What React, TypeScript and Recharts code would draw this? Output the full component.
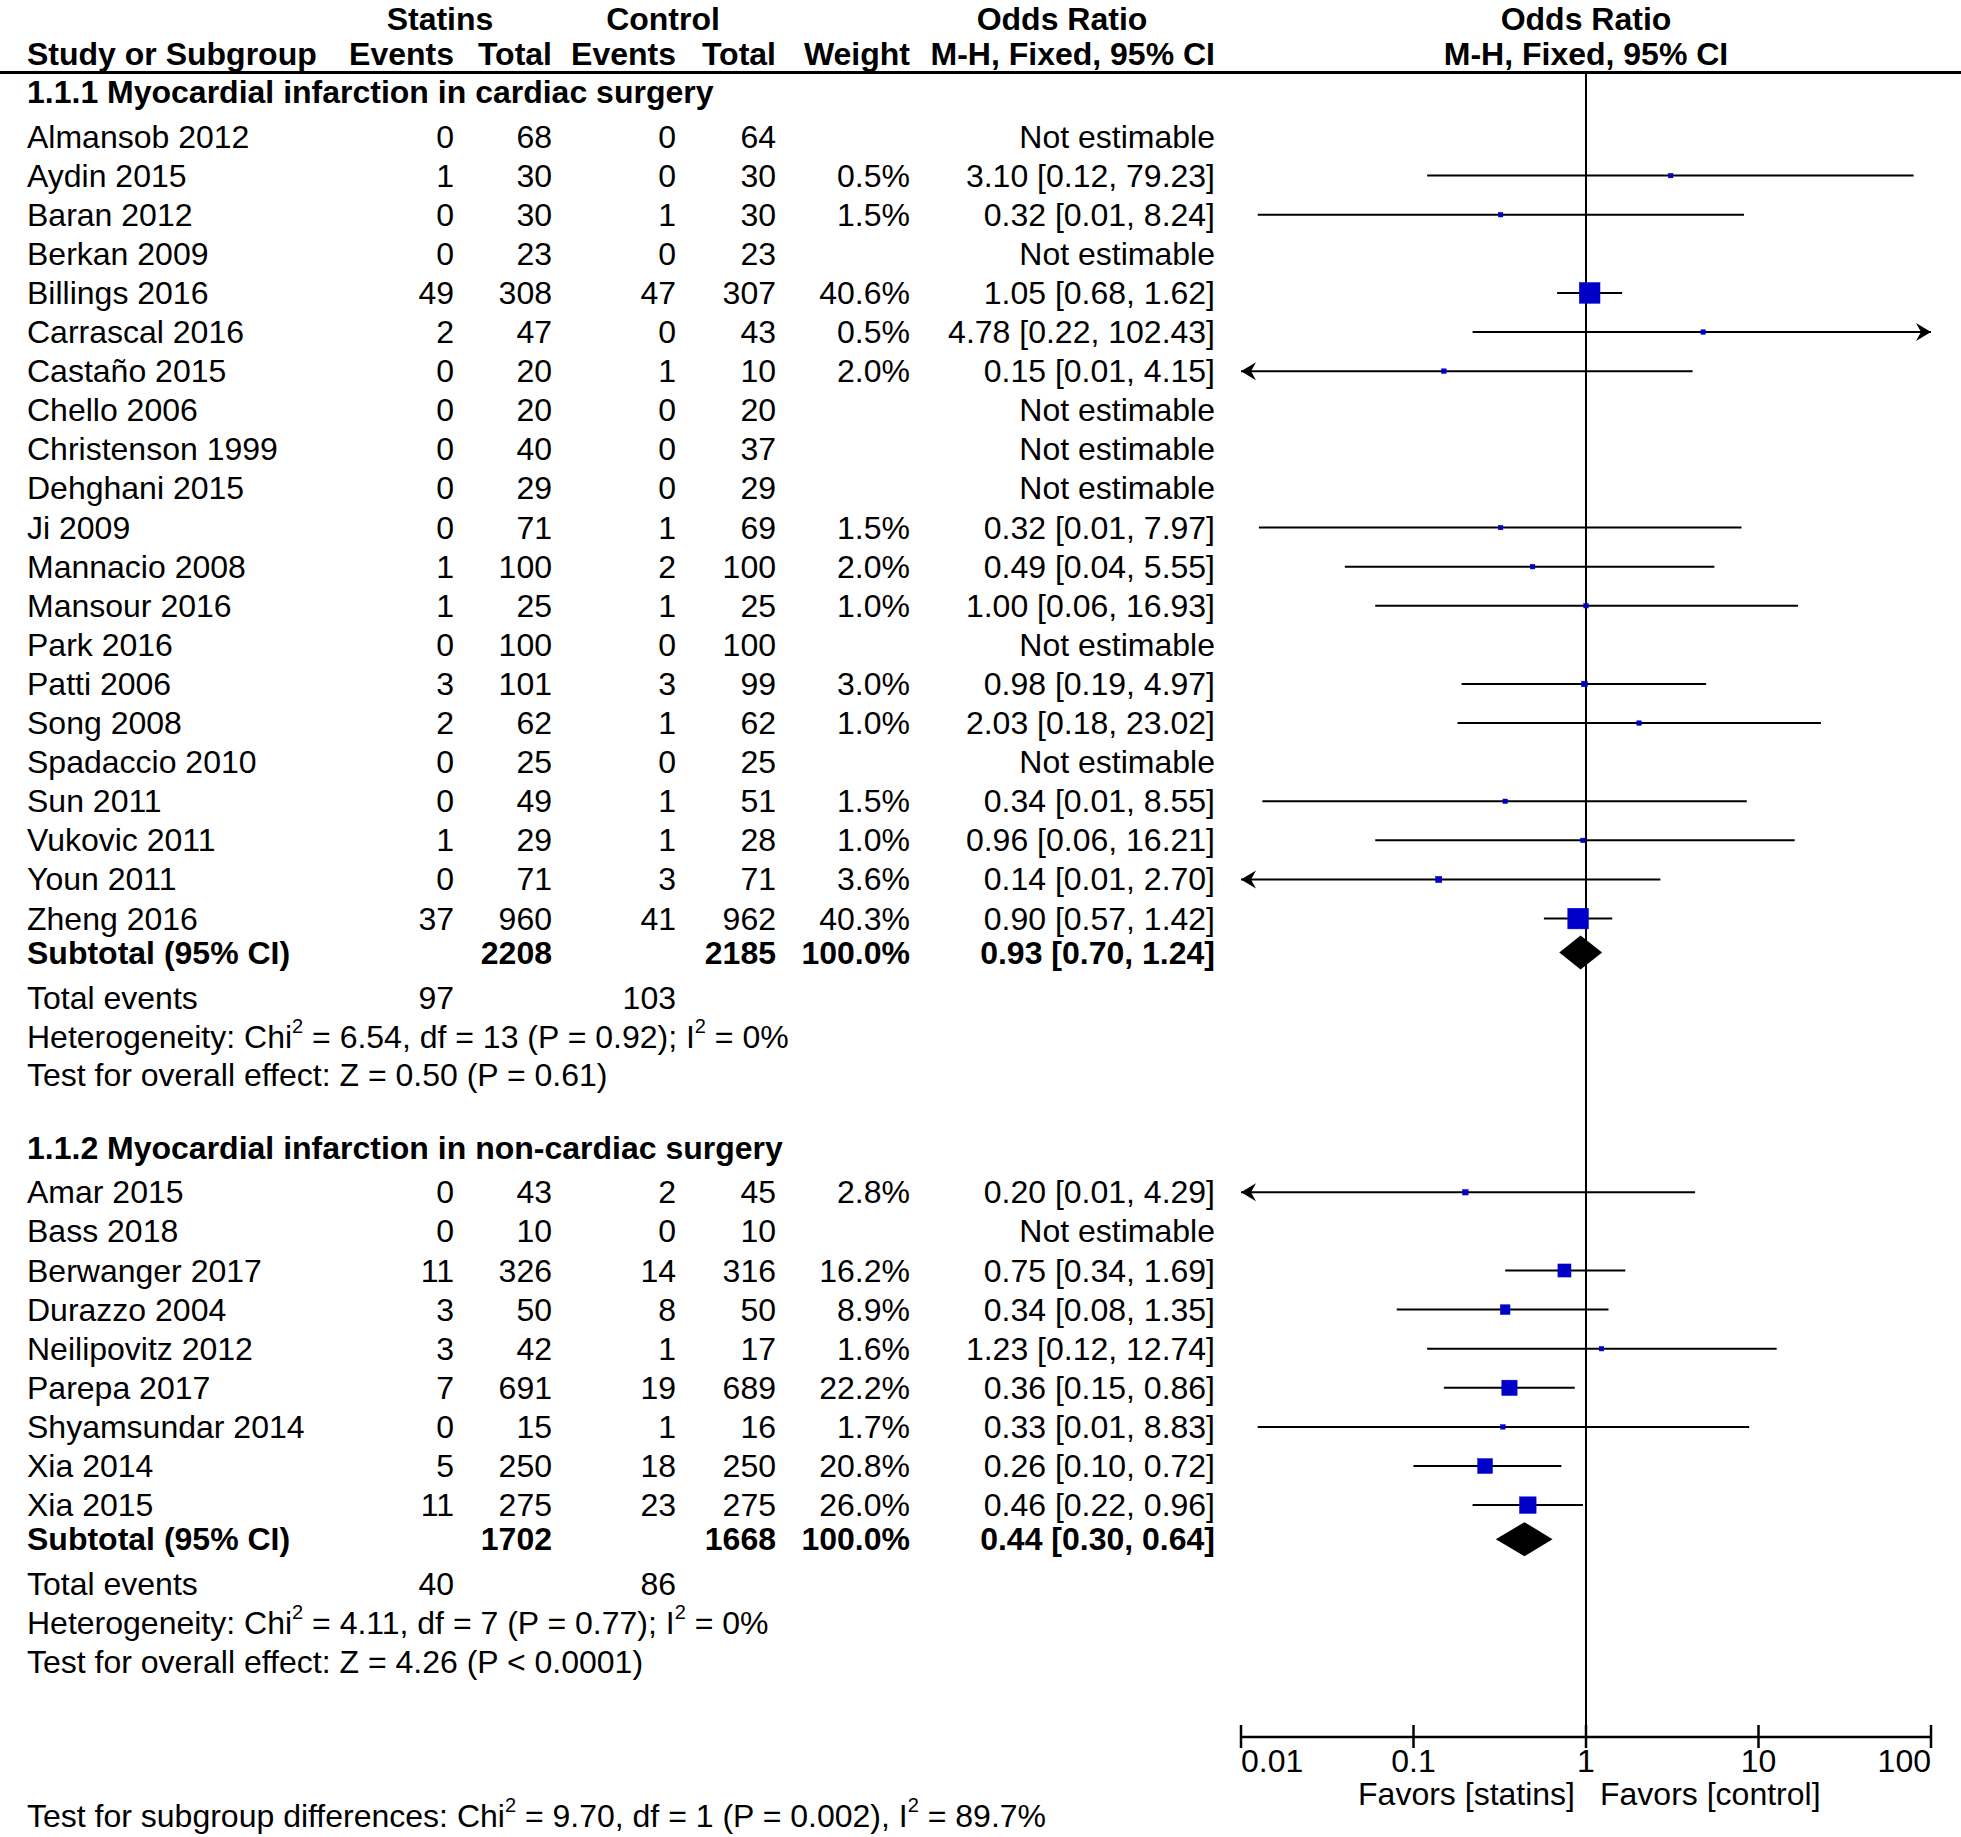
import React from 'react';
import { ComposedChart, Scatter, XAxis, YAxis, ReferenceLine, Customized } from 'recharts';

// ---------------- data ----------------
const SECTION_TITLES = [
  '1.1.1 Myocardial infarction in cardiac surgery',
  '1.1.2 Myocardial infarction in non-cardiac surgery',
];

const STUDIES_1 = [
  'Almansob 2012', 'Aydin 2015', 'Baran 2012', 'Berkan 2009', 'Billings 2016', 'Carrascal 2016',
  'Castaño 2015', 'Chello 2006', 'Christenson 1999', 'Dehghani 2015', 'Ji 2009', 'Mannacio 2008',
  'Mansour 2016', 'Park 2016', 'Patti 2006', 'Song 2008', 'Spadaccio 2010', 'Sun 2011',
  'Vukovic 2011', 'Youn 2011', 'Zheng 2016',
];
const EV_STAT_1 = [0, 1, 0, 0, 49, 2, 0, 0, 0, 0, 0, 1, 1, 0, 3, 2, 0, 0, 1, 0, 37];
const TOT_STAT_1 = [68, 30, 30, 23, 308, 47, 20, 20, 40, 29, 71, 100, 25, 100, 101, 62, 25, 49, 29, 71, 960];
const EV_CTRL_1 = [0, 0, 1, 0, 47, 0, 1, 0, 0, 0, 1, 2, 1, 0, 3, 1, 0, 1, 1, 3, 41];
const TOT_CTRL_1 = [64, 30, 30, 23, 307, 43, 10, 20, 37, 29, 69, 100, 25, 100, 99, 62, 25, 51, 28, 71, 962];
const WEIGHT_1 = [null, 0.5, 1.5, null, 40.6, 0.5, 2.0, null, null, null, 1.5, 2.0, 1.0, null, 3.0, 1.0, null, 1.5, 1.0, 3.6, 40.3];
const OR_1 = [null, 3.10, 0.32, null, 1.05, 4.78, 0.15, null, null, null, 0.32, 0.49, 1.00, null, 0.98, 2.03, null, 0.34, 0.96, 0.14, 0.90];
const LO_1 = [null, 0.12, 0.0125, null, 0.68, 0.22, 0.0057, null, null, null, 0.0127, 0.04, 0.06, null, 0.19, 0.18, null, 0.0133, 0.06, 0.007, 0.57];
const HI_1 = [null, 79.23, 8.24, null, 1.62, 102.43, 4.15, null, null, null, 7.97, 5.55, 16.93, null, 4.97, 23.02, null, 8.55, 16.21, 2.70, 1.42];

const STUDIES_2 = [
  'Amar 2015', 'Bass 2018', 'Berwanger 2017', 'Durazzo 2004', 'Neilipovitz 2012', 'Parepa 2017',
  'Shyamsundar 2014', 'Xia 2014', 'Xia 2015',
];
const EV_STAT_2 = [0, 0, 11, 3, 3, 7, 0, 5, 11];
const TOT_STAT_2 = [43, 10, 326, 50, 42, 691, 15, 250, 275];
const EV_CTRL_2 = [2, 0, 14, 8, 1, 19, 1, 18, 23];
const TOT_CTRL_2 = [45, 10, 316, 50, 17, 689, 16, 250, 275];
const WEIGHT_2 = [2.8, null, 16.2, 8.9, 1.6, 22.2, 1.7, 20.8, 26.0];
const OR_2 = [0.20, null, 0.75, 0.34, 1.23, 0.36, 0.33, 0.26, 0.46];
const LO_2 = [0.0094, null, 0.34, 0.08, 0.12, 0.15, 0.0125, 0.10, 0.22];
const HI_2 = [4.29, null, 1.69, 1.35, 12.74, 0.86, 8.83, 0.72, 0.96];

const SUB_TOT_STAT = [2208, 1702];
const SUB_TOT_CTRL = [2185, 1668];
const SUB_WEIGHT = [100.0, 100.0];
const SUB_OR = [0.93, 0.44];
const SUB_LO = [0.70, 0.30];
const SUB_HI = [1.24, 0.64];
const TOTAL_EV_STAT = [97, 40];
const TOTAL_EV_CTRL = [103, 86];
// odd indices are superscripts
const HETEROGENEITY = [
  ['Heterogeneity: Chi', '2', ' = 6.54, df = 13 (P = 0.92); I', '2', ' = 0%'],
  ['Heterogeneity: Chi', '2', ' = 4.11, df = 7 (P = 0.77); I', '2', ' = 0%'],
];
const OVERALL = ['Test for overall effect: Z = 0.50 (P = 0.61)', 'Test for overall effect: Z = 4.26 (P < 0.0001)'];
const SUBGROUP_DIFF = ['Test for subgroup differences: Chi', '2', ' = 9.70, df = 1 (P = 0.002), I', '2', ' = 89.7%'];

const X_TICKS = [0.01, 0.1, 1, 10, 100];
const AXIS_LABELS = ['Favors [statins]', 'Favors [control]'];

// ---------------- layout ----------------
const W = 1961;
const H = 1837;
const FONT = "'Liberation Sans', Arial, Helvetica, sans-serif";
const FS = 32;
const PLOT_LEFT = 1241;
const PLOT_RIGHT = 1931;
const PLOT_TOP = 72;
const AXIS_H = 100;
const X_MIN = 0.01;
const X_MAX = 100;
const Y_DOMAIN: [number, number] = [0, 42.58];
const COL = { name: 27, evS: 454, totS: 552, evC: 676, totC: 776, weight: 910, ci: 1215 };
const BLUE = '#0000c8';

const fmt2 = (v: number) => v.toFixed(2);
const fmtCI = (o: number, l: number, h: number) => `${fmt2(o)} [${fmt2(l)}, ${fmt2(h)}]`;

type Row = {
  x: number; y: number; kind: string; bold?: boolean;
  name?: string; evS?: string; totS?: string; evC?: string; totC?: string; weight?: string; ci?: string;
  parts?: string[];
};
type Mark = { x: number; y: number; or: number; lo: number; hi: number; w: number };

const GROUPS = [
  { names: STUDIES_1, evS: EV_STAT_1, totS: TOT_STAT_1, evC: EV_CTRL_1, totC: TOT_CTRL_1, w: WEIGHT_1, or: OR_1, lo: LO_1, hi: HI_1 },
  { names: STUDIES_2, evS: EV_STAT_2, totS: TOT_STAT_2, evC: EV_CTRL_2, totC: TOT_CTRL_2, w: WEIGHT_2, or: OR_2, lo: LO_2, hi: HI_2 },
];

const rows: Row[] = [];
const marks: Mark[] = [];
const diamonds: Mark[] = [];
{
  let s = 0.52;
  GROUPS.forEach((g, gi) => {
    if (gi > 0) s += 1.86;
    rows.push({ x: 1, y: s, kind: 'section', bold: true, name: SECTION_TITLES[gi] });
    s += 1.13;
    g.names.forEach((n, i) => {
      const or = g.or[i];
      rows.push({
        x: 1, y: s, kind: 'study', name: n,
        evS: String(g.evS[i]), totS: String(g.totS[i]), evC: String(g.evC[i]), totC: String(g.totC[i]),
        weight: g.w[i] == null ? '' : `${(g.w[i] as number).toFixed(1)}%`,
        ci: or == null ? 'Not estimable' : fmtCI(or, g.lo[i] as number, g.hi[i] as number),
      });
      if (or != null) {
        marks.push({ x: or, y: s, or, lo: g.lo[i] as number, hi: g.hi[i] as number, w: g.w[i] as number });
      }
      if (i < g.names.length - 1) s += 1;
    });
    s += 0.87;
    rows.push({
      x: 1, y: s, kind: 'subtotal', bold: true, name: 'Subtotal (95% CI)',
      totS: String(SUB_TOT_STAT[gi]), totC: String(SUB_TOT_CTRL[gi]),
      weight: `${SUB_WEIGHT[gi].toFixed(1)}%`, ci: fmtCI(SUB_OR[gi], SUB_LO[gi], SUB_HI[gi]),
    });
    diamonds.push({ x: SUB_OR[gi], y: s, or: SUB_OR[gi], lo: SUB_LO[gi], hi: SUB_HI[gi], w: 100 });
    s += 1.15;
    rows.push({ x: 1, y: s, kind: 'study', name: 'Total events', evS: String(TOTAL_EV_STAT[gi]), evC: String(TOTAL_EV_CTRL[gi]) });
    s += 1.0;
    rows.push({ x: 1, y: s, kind: 'note', parts: HETEROGENEITY[gi] });
    s += 0.99;
    rows.push({ x: 1, y: s, kind: 'note', parts: [OVERALL[gi]] });
  });
}

const txt = (bold?: boolean) => ({
  fontFamily: FONT, fontSize: FS, fill: '#000', dominantBaseline: 'central' as const, fontWeight: bold ? 700 : 400,
});

function PartsText({ x, y, parts, bold }: { x: number; y: number; parts: string[]; bold?: boolean }) {
  const kids: React.ReactNode[] = [];
  parts.forEach((p, i) => {
    const sup = i % 2 === 1;
    const prevSup = i > 0 && (i - 1) % 2 === 1;
    kids.push(
      <tspan key={i} fontSize={sup ? 20 : FS} dy={sup ? -11 : prevSup ? 11 : 0}>{p}</tspan>
    );
  });
  return <text x={x} y={y} {...txt(bold)}>{kids}</text>;
}

function RowShape(props: any) {
  const { cy, payload } = props;
  const r: Row = payload;
  if (cy == null || !r) return <g />;
  if (r.kind === 'note') return <PartsText x={COL.name} y={cy} parts={r.parts || []} />;
  const t = txt(r.bold);
  return (
    <g>
      {r.name && <text x={COL.name} y={cy} textAnchor="start" {...t}>{r.name}</text>}
      {r.evS && <text x={COL.evS} y={cy} textAnchor="end" {...t}>{r.evS}</text>}
      {r.totS && <text x={COL.totS} y={cy} textAnchor="end" {...t}>{r.totS}</text>}
      {r.evC && <text x={COL.evC} y={cy} textAnchor="end" {...t}>{r.evC}</text>}
      {r.totC && <text x={COL.totC} y={cy} textAnchor="end" {...t}>{r.totC}</text>}
      {r.weight && <text x={COL.weight} y={cy} textAnchor="end" {...t}>{r.weight}</text>}
      {r.ci && <text x={COL.ci} y={cy} textAnchor="end" {...t}>{r.ci}</text>}
    </g>
  );
}

function SquareShape(props: any) {
  const { cx, cy, payload } = props;
  if (cx == null || cy == null) return <g />;
  const side = Math.max(4.5, 3.25 * Math.sqrt(payload.w));
  return <rect x={cx - side / 2} y={cy - side / 2} width={side} height={side} fill={BLUE} stroke={BLUE} strokeWidth={0.5} />;
}

function makeCiShape(arrowL: boolean, arrowR: boolean) {
  return (p: any) => {
    const { x1, y1, x2, y2 } = p;
    return (
      <g>
        <line x1={x1} y1={y1} x2={x2} y2={y2} stroke="#000" strokeWidth={2} />
        {arrowR && (
          <polygon points={`${x2},${y2} ${x2 - 15},${y2 - 9} ${x2 - 10},${y2} ${x2 - 15},${y2 + 9}`} fill="#000" />
        )}
        {arrowL && (
          <polygon points={`${x1},${y1} ${x1 + 15},${y1 - 9} ${x1 + 10},${y1} ${x1 + 15},${y1 + 9}`} fill="#000" />
        )}
      </g>
    );
  };
}

function makeDiamondShape(d: Mark) {
  return (p: any) => {
    const { x1, y1, x2 } = p;
    const f = (Math.log(d.or) - Math.log(d.lo)) / (Math.log(d.hi) - Math.log(d.lo));
    const xc = x1 + (x2 - x1) * f;
    const hh = 17;
    return <polygon points={`${x1},${y1} ${xc},${y1 - hh} ${x2},${y1} ${xc},${y1 + hh}`} fill="#000" />;
  };
}

function AxisTick(props: any) {
  const { x, y, payload, index } = props;
  const anchor = index === 0 ? 'start' : index === X_TICKS.length - 1 ? 'end' : 'middle';
  return (
    <g>
      <line x1={x} x2={x} y1={y - 12} y2={y + 11} stroke="#000" strokeWidth={2.5} />
      <text x={x} y={y + 24} textAnchor={anchor} {...txt(false)}>{String(payload.value)}</text>
    </g>
  );
}

function HeaderLayer() {
  const b = txt(true);
  const n = txt(false);
  const y1 = 19;
  const y2 = 54;
  const xOne = (PLOT_LEFT + PLOT_RIGHT) / 2;
  return (
    <g>
      <text x={440} y={y1} textAnchor="middle" {...b}>Statins</text>
      <text x={663} y={y1} textAnchor="middle" {...b}>Control</text>
      <text x={1062} y={y1} textAnchor="middle" {...b}>Odds Ratio</text>
      <text x={xOne} y={y1} textAnchor="middle" {...b}>Odds Ratio</text>
      <text x={COL.name} y={y2} textAnchor="start" {...b}>Study or Subgroup</text>
      <text x={COL.evS} y={y2} textAnchor="end" {...b}>Events</text>
      <text x={COL.totS} y={y2} textAnchor="end" {...b}>Total</text>
      <text x={COL.evC} y={y2} textAnchor="end" {...b}>Events</text>
      <text x={COL.totC} y={y2} textAnchor="end" {...b}>Total</text>
      <text x={COL.weight} y={y2} textAnchor="end" {...b}>Weight</text>
      <text x={COL.ci} y={y2} textAnchor="end" {...b}>M-H, Fixed, 95% CI</text>
      <text x={xOne} y={y2} textAnchor="middle" {...b}>M-H, Fixed, 95% CI</text>
      <line x1={0} x2={W} y1={PLOT_TOP + 0.5} y2={PLOT_TOP + 0.5} stroke="#000" strokeWidth={3} />
      <text x={xOne - 11} y={1794} textAnchor="end" {...n}>{AXIS_LABELS[0]}</text>
      <text x={xOne + 14} y={1794} textAnchor="start" {...n}>{AXIS_LABELS[1]}</text>
      <PartsText x={COL.name} y={1816} parts={SUBGROUP_DIFF} />
    </g>
  );
}

export default function App() {
  return (
    <div style={{ position: 'absolute', left: 0, top: 0, width: W, height: H, background: '#fff' }}>
      <ComposedChart
        width={W}
        height={H}
        margin={{ top: PLOT_TOP, right: W - PLOT_RIGHT, bottom: 0, left: PLOT_LEFT }}
      >
        <XAxis
          type="number"
          dataKey="x"
          scale="log"
          domain={[X_MIN, X_MAX]}
          ticks={X_TICKS}
          interval={0}
          tick={<AxisTick />}
          tickLine={false}
          tickSize={0}
          tickMargin={0}
          height={AXIS_H}
          axisLine={{ stroke: '#000', strokeWidth: 2.5 }}
        />
        <YAxis type="number" dataKey="y" domain={Y_DOMAIN} reversed hide width={0} />
        <ReferenceLine x={1} stroke="#000" strokeWidth={2} ifOverflow="visible" />
        {marks.map((m, i) => (
          <ReferenceLine
            key={'ci' + i}
            ifOverflow="visible"
            segment={[{ x: Math.max(m.lo, X_MIN), y: m.y }, { x: Math.min(m.hi, X_MAX), y: m.y }]}
            shape={makeCiShape(m.lo < X_MIN, m.hi > X_MAX)}
          />
        ))}
        {diamonds.map((d, i) => (
          <ReferenceLine
            key={'dm' + i}
            ifOverflow="visible"
            segment={[{ x: d.lo, y: d.y }, { x: d.hi, y: d.y }]}
            shape={makeDiamondShape(d)}
          />
        ))}
        <Scatter data={rows} shape={RowShape} isAnimationActive={false} />
        <Scatter data={marks} shape={SquareShape} isAnimationActive={false} />
        <Customized component={HeaderLayer} />
      </ComposedChart>
    </div>
  );
}
